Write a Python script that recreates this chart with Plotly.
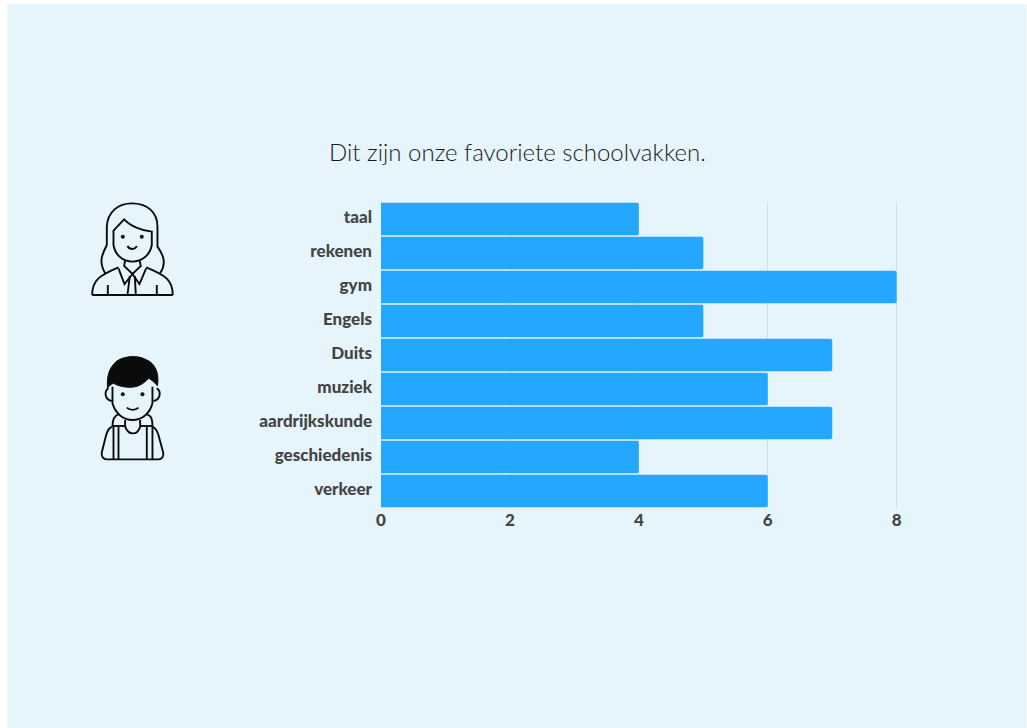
import re
import plotly.graph_objects as go

W, H = 1027, 728
subjects = ["taal", "rekenen", "gym", "Engels", "Duits", "muziek", "aardrijkskunde", "geschiedenis", "verkeer"]
scores = [4, 5, 8, 5, 7, 6, 7, 4, 6]
x_ticks = [0, 2, 4, 6, 8]
title_text = "Dit zijn onze favoriete schoolvakken."

PANEL = "#E6F5FB"
BAR = "#24A7FF"
INK = "#0B0B0B"
X_MAX = 8.02
L, R, T, Bm = 381, 381 + 64.5 * X_MAX, 202, 508

def px(x):
    return (x - L) / (R - L)

def py(y):
    return 1 - (y - T) / (Bm - T)

def to_paper(path, ox, oy, s=1 / 3):
    res, is_x = "", True
    for tok in re.findall(r"[MLCQZ]|-?\d+\.?\d*", path):
        if tok in "MLCQZ":
            res += tok
        else:
            v = float(tok)
            if is_x:
                res += f"{px(ox + v * s):.5f},"
            else:
                res += f"{py(oy + v * s):.5f} "
            is_x = not is_x
    return res

def stroke(path, ox, oy, fill="rgba(0,0,0,0)", width=1.9):
    return dict(type="path", xref="paper", yref="paper", path=to_paper(path, ox, oy),
                line=dict(color=INK, width=width), fillcolor=fill, layer="above")

shapes = [dict(type="rect", xref="paper", yref="paper", x0=px(7), x1=px(W), y0=py(H), y1=py(4),
               fillcolor=PANEL, line=dict(width=0), layer="below")]

G = (70, 190)
girl = [
    "M 105 250 C 85 215 95 195 110 165 L 110 110 C 112 65 145 40 185 40 C 230 40 262 65 262 110 L 262 170 C 280 195 290 220 270 250",
    "M 130 122 L 162 88 C 180 108 215 122 245 125 L 245 165 C 240 195 215 215 187 215 C 158 215 135 195 130 165 Z",
    "M 172 168 C 178 180 195 180 200 168",
    "M 165 210 L 162 228 L 187 252 L 212 228 L 208 210",
    "M 145 235 L 163 282 L 187 252 L 208 282 L 228 235",
    "M 66 315 L 308 315",
    "M 66 315 C 66 270 90 255 145 232",
    "M 308 315 C 308 270 285 255 228 232",
    "M 172 315 L 179 258",
    "M 197 315 L 194 258",
    "M 113 285 L 113 315",
    "M 260 285 L 260 315",
]
B = (80, 345)
boy = [
    "M 97 125 L 97 175 C 105 205 130 225 157 225 C 185 225 210 205 217 175 L 217 125",
    "M 85 130 C 70 140 75 165 95 168",
    "M 230 130 C 245 140 240 165 220 168",
    "M 140 188 C 150 197 165 197 175 188",
    "M 135 225 L 135 245 C 145 272 172 272 180 245 L 180 225",
    "M 115 208 C 100 212 97 225 97 245",
    "M 200 208 C 215 212 217 225 217 245",
    "M 97 245 C 85 248 82 258 78 270 L 65 322 C 62 335 70 343 80 343 L 235 343 C 245 343 252 335 249 322 L 235 270 C 230 255 225 248 217 245",
    "M 97 243 L 135 243",
    "M 180 243 L 217 243",
    "M 100 245 L 100 343",
    "M 115 245 L 115 343",
    "M 200 245 L 200 343",
    "M 217 245 L 217 343",
]
hair = "M 82 130 C 80 95 85 70 110 48 C 135 32 175 30 200 45 C 225 55 238 85 232 122 C 222 112 212 102 205 100 C 190 118 170 127 150 127 C 130 127 112 122 100 115 C 92 118 86 124 82 130 Z"

for p in girl:
    shapes.append(stroke(p, *G))
for p in boy:
    shapes.append(stroke(p, *B))
shapes.append(stroke(hair, *B, fill=INK, width=1))

def dot(o, cx, cy, r=6):
    return dict(type="circle", xref="paper", yref="paper",
                x0=px(o[0] + (cx - r) / 3), x1=px(o[0] + (cx + r) / 3),
                y0=py(o[1] + (cy + r) / 3), y1=py(o[1] + (cy - r) / 3),
                fillcolor=INK, line=dict(width=0), layer="above")

for cx, cy in [(158, 140), (215, 140)]:
    shapes.append(dot(G, cx, cy))
for cx, cy in [(128, 148), (187, 148)]:
    shapes.append(dot(B, cx, cy))

TICKFONT = dict(family="Lato", size=17, color="#444444", weight=900)

fig = go.Figure(go.Bar(y=subjects, x=scores, orientation="h", width=0.95,
                       marker=dict(color=BAR, line=dict(width=0), cornerradius=2),
                       hoverinfo="skip"))
fig.update_layout(
    width=W, height=H, autosize=False,
    margin=dict(l=L, r=W - R, t=T, b=H - Bm, pad=0),
    paper_bgcolor="white", plot_bgcolor="rgba(0,0,0,0)",
    showlegend=False, shapes=shapes,
    annotations=[dict(text=title_text, xref="paper", yref="paper", x=px(517.5), y=py(152),
                      xanchor="center", yanchor="middle", showarrow=False,
                      font=dict(family="Lato", size=24, color="#1A1A1A", weight=300))],
)
fig.update_xaxes(range=[0, X_MAX], tickvals=x_ticks, showgrid=True, gridcolor="#D3DEE4", gridwidth=1,
                 zeroline=False, showline=False, ticks="", ticklabelstandoff=0, tickfont=TICKFONT)
fig.update_yaxes(autorange=False, range=[8.5, -0.5], type="category", showgrid=False, zeroline=False,
                 showline=False, ticks="", ticklabelstandoff=8, ticklabelshift=2, tickfont=TICKFONT)
fig.write_html("out.html", config=dict(displayModeBar=False),
               post_script="document.body.style.margin='0';document.documentElement.style.overflow='hidden';")
